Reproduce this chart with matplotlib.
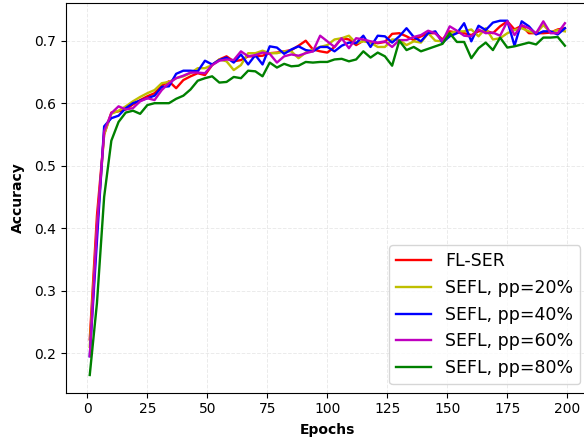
import numpy as np
import matplotlib
matplotlib.use("Agg")
import matplotlib.pyplot as plt

# evaluation epochs (every 3 epochs)
epochs = np.arange(1, 200, 3)

fl_ser = [0.222, 0.42, 0.55, 0.585, 0.587, 0.590, 0.598, 0.605, 0.611, 0.616,
          0.628, 0.635, 0.624, 0.637, 0.643, 0.648, 0.645, 0.661, 0.670, 0.675,
          0.667, 0.669, 0.675, 0.675, 0.676, 0.680, 0.681, 0.683, 0.685, 0.692,
          0.700, 0.686, 0.683, 0.681, 0.690, 0.704, 0.702, 0.693, 0.700, 0.698,
          0.696, 0.698, 0.711, 0.712, 0.707, 0.701, 0.707, 0.712, 0.712, 0.702,
          0.715, 0.713, 0.712, 0.709, 0.715, 0.716, 0.712, 0.723, 0.731, 0.718,
          0.724, 0.712, 0.712, 0.712, 0.713, 0.718, 0.720]

sefl_20 = [0.21, 0.40, 0.55, 0.583, 0.588, 0.595, 0.603, 0.610, 0.616, 0.621,
           0.632, 0.634, 0.640, 0.643, 0.648, 0.656, 0.656, 0.661, 0.670, 0.667,
           0.653, 0.661, 0.680, 0.680, 0.684, 0.680, 0.680, 0.683, 0.683, 0.672,
           0.681, 0.686, 0.690, 0.693, 0.702, 0.704, 0.708, 0.696, 0.699, 0.697,
           0.690, 0.690, 0.702, 0.701, 0.693, 0.699, 0.697, 0.712, 0.700, 0.699,
           0.712, 0.715, 0.715, 0.718, 0.707, 0.720, 0.702, 0.704, 0.712, 0.717,
           0.720, 0.715, 0.712, 0.725, 0.713, 0.717, 0.715]

sefl_40 = [0.195, 0.38, 0.563, 0.576, 0.580, 0.592, 0.600, 0.604, 0.608, 0.612,
           0.626, 0.627, 0.647, 0.652, 0.652, 0.651, 0.668, 0.662, 0.669, 0.673,
           0.665, 0.678, 0.662, 0.677, 0.662, 0.691, 0.689, 0.679, 0.686, 0.691,
           0.685, 0.683, 0.690, 0.690, 0.683, 0.692, 0.697, 0.696, 0.708, 0.690,
           0.708, 0.707, 0.697, 0.707, 0.720, 0.706, 0.699, 0.712, 0.715, 0.697,
           0.707, 0.712, 0.728, 0.699, 0.724, 0.717, 0.729, 0.732, 0.732, 0.692,
           0.731, 0.723, 0.710, 0.715, 0.715, 0.710, 0.720]

sefl_60 = [0.195, 0.40, 0.555, 0.584, 0.595, 0.590, 0.592, 0.603, 0.608, 0.605,
           0.621, 0.632, 0.640, 0.644, 0.649, 0.649, 0.648, 0.661, 0.668, 0.670,
           0.669, 0.683, 0.675, 0.677, 0.681, 0.679, 0.665, 0.675, 0.678, 0.676,
           0.680, 0.683, 0.708, 0.699, 0.690, 0.704, 0.688, 0.704, 0.702, 0.699,
           0.697, 0.699, 0.690, 0.701, 0.701, 0.706, 0.709, 0.716, 0.712, 0.699,
           0.723, 0.716, 0.708, 0.707, 0.718, 0.712, 0.713, 0.708, 0.731, 0.709,
           0.725, 0.720, 0.712, 0.731, 0.712, 0.712, 0.728]

sefl_80 = [0.165, 0.28, 0.45, 0.54, 0.57, 0.585, 0.588, 0.583, 0.597, 0.600,
           0.600, 0.600, 0.607, 0.612, 0.622, 0.636, 0.640, 0.643, 0.633, 0.634,
           0.642, 0.640, 0.652, 0.651, 0.643, 0.665, 0.657, 0.663, 0.659, 0.660,
           0.666, 0.665, 0.666, 0.666, 0.670, 0.671, 0.667, 0.670, 0.683, 0.673,
           0.681, 0.675, 0.660, 0.700, 0.685, 0.690, 0.683, 0.687, 0.691, 0.695,
           0.712, 0.698, 0.698, 0.672, 0.688, 0.697, 0.685, 0.705, 0.689, 0.691,
           0.694, 0.697, 0.694, 0.705, 0.705, 0.706, 0.692]

labels = ['FL-SER', 'SEFL, pp=20%', 'SEFL, pp=40%', 'SEFL, pp=60%', 'SEFL, pp=80%']
colors = ['r', 'y', 'b', 'm', 'g']
series = [fl_ser, sefl_20, sefl_40, sefl_60, sefl_80]

fig = plt.figure(figsize=(5.84, 4.41), dpi=100)
# axes runs a little past the right edge, like the cropped original
ax = fig.add_axes([0.113, 0.1095, 0.895, 0.8837])

for ys, lab, c in zip(series, labels, colors):
    ax.plot(epochs, ys, color=c, linewidth=1.7, label=lab)

ax.grid(True, linestyle='--', linewidth=0.7, alpha=0.25)
ax.set_xlabel('Epochs', fontsize=10, fontweight='bold', labelpad=5)
ax.set_ylabel('Accuracy', fontsize=10, fontweight='bold', labelpad=7)
ax.tick_params(labelsize=10)
ax.legend(loc='lower right', fontsize=12.5)

fig.savefig('out.png', dpi=100)
